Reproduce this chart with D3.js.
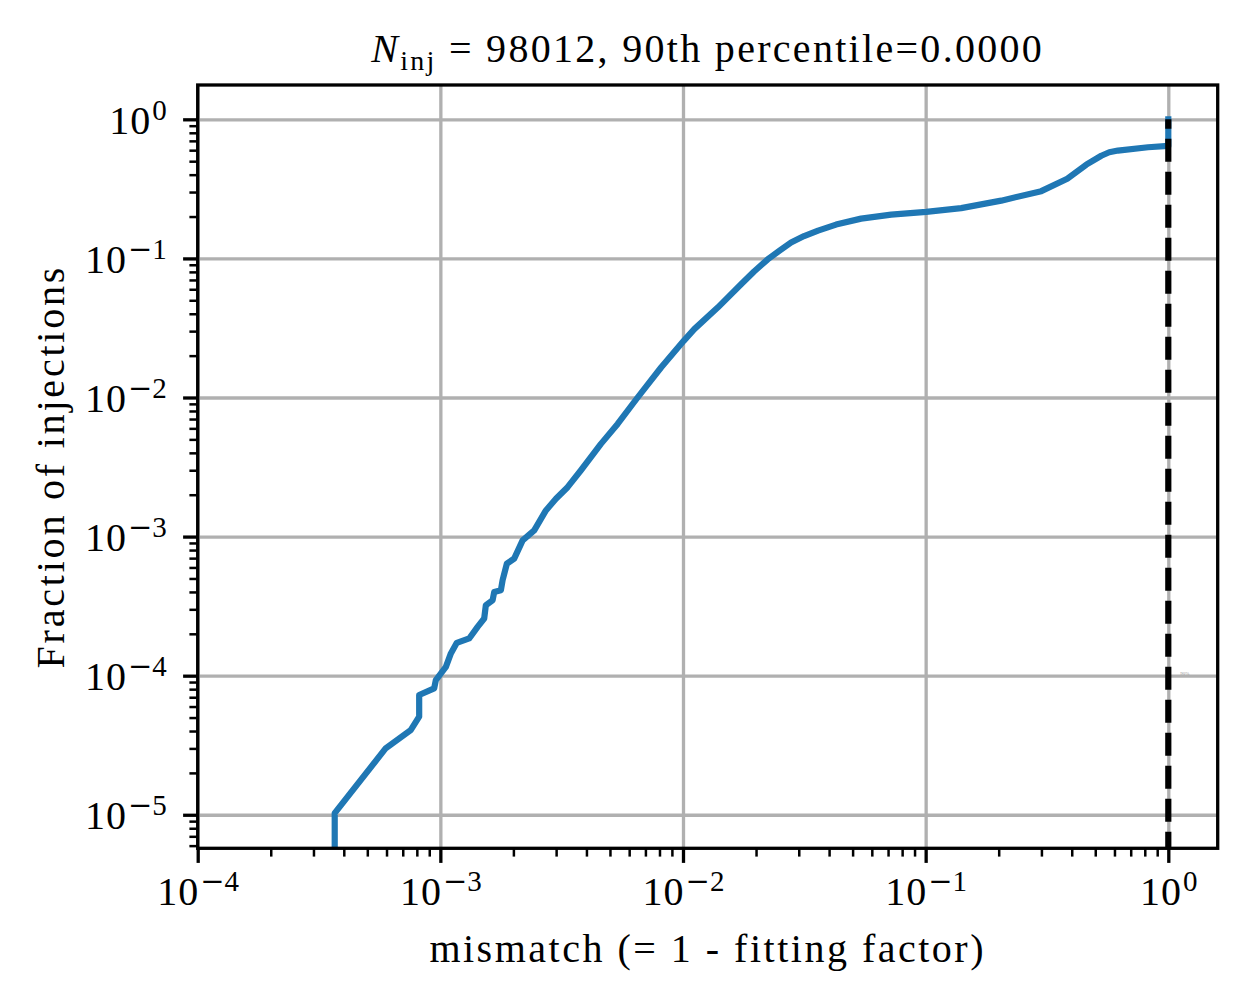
<!DOCTYPE html>
<html>
<head>
<meta charset="utf-8">
<script src="https://cdn.jsdelivr.net/npm/d3@7"></script>
<style>
  body { margin: 0; background: #fff; }
  text { font-family: "Liberation Serif", "DejaVu Serif", serif; fill: #000; }
</style>
</head>
<body>
<div id="main"></div>
<script>
// cumulative curve: mismatch vs fraction of injections
const mismatch = [
    3.67e-4, 3.67e-4, 5.96e-4, 7.56e-4, 8.18e-4, 8.18e-4, 9.43e-4, 9.58e-4,
    1.054e-3, 1.105e-3, 1.169e-3, 1.315e-3, 1.424e-3, 1.516e-3, 1.540e-3, 1.642e-3,
    1.667e-3, 1.776e-3, 1.805e-3, 1.880e-3, 2.015e-3, 2.183e-3, 2.437e-3, 2.723e-3,
    2.995e-3, 3.345e-3, 3.797e-3, 4.590e-3, 5.378e-3, 6.50e-3, 8.12e-3, 1.007e-2,
    1.113e-2, 1.390e-2, 1.735e-2, 1.963e-2, 2.235e-2, 2.488e-2, 2.788e-2, 3.155e-2,
    3.603e-2, 4.273e-2, 5.42e-2, 7.21e-2, 0.1005, 0.1401, 0.2048, 0.2995,
    0.3834, 0.4591, 0.5294, 0.5711, 0.620, 0.825, 1.0, 1.0
];
const fraction = [
    1e-6, 1.028e-5, 3.01e-5, 4.07e-5, 5.07e-5, 7.26e-5, 8.11e-5, 9.30e-5,
    1.158e-4, 1.445e-4, 1.722e-4, 1.852e-4, 2.243e-4, 2.577e-4, 3.21e-4, 3.485e-4,
    3.998e-4, 4.11e-4, 4.85e-4, 6.39e-4, 6.94e-4, 9.39e-4, 1.108e-3, 1.542e-3,
    1.870e-3, 2.265e-3, 3.0e-3, 4.64e-3, 6.45e-3, 1.0e-2, 1.643e-2, 2.556e-2,
    3.10e-2, 4.43e-2, 6.52e-2, 8.05e-2, 9.85e-2, 0.1130, 0.1300, 0.1448,
    0.1585, 0.1751, 0.1932, 0.2065, 0.2163, 0.2298, 0.2602, 0.3044,
    0.3742, 0.4717, 0.5471, 0.5797, 0.5963, 0.6297, 0.6435, 1.0
];
// 90th percentile marker
const percentileX = [1.0, 1.0];
const percentileY = [1e-6, 1.0];

const xTickExp = [-4, -3, -2, -1, 0];
const yTickExp = [-5, -4, -3, -2, -1, 0];
const xDomain = [1e-4, 1.598];
const yDomain = [5.74e-6, 1.765];

const titleMain = 'N';
const titleSub = 'inj';
const titleRest = ' = 98012, 90th percentile=0.0000';
const xLabel = 'mismatch (= 1 - fitting factor)';
const yLabel = 'Fraction of injections';

const svgWidth = 1246, svgHeight = 1003;
const margin = { left: 197.7, right: 28.3, top: 85, bottom: 154.7 };
const chartWidth = svgWidth - margin.left - margin.right;
const chartHeight = svgHeight - margin.top - margin.bottom;

const svg = d3.select('#main')
    .append('svg')
    .attr('width', svgWidth)
    .attr('height', svgHeight);

const xScale = d3.scaleLog().domain(xDomain).range([0, chartWidth]);
const yScale = d3.scaleLog().domain(yDomain).range([chartHeight, 0]);

const minorTicks = (lo, hi) => {
    const out = [];
    for (let e = lo; e <= hi; e++) {
        for (let m = 2; m <= 9; m++) out.push(m * Math.pow(10, e));
    }
    return out;
};
const xMinor = minorTicks(-4, 0).filter(v => v >= xDomain[0] && v <= xDomain[1]);
const yMinor = minorTicks(-6, 0).filter(v => v >= yDomain[0] && v <= yDomain[1]);

const g = svg.append('g')
    .attr('transform', `translate(${margin.left}, ${margin.top})`);

svg.append('defs').append('clipPath').attr('id', 'clip')
    .append('rect').attr('width', chartWidth).attr('height', chartHeight);

// grid
g.append('g')
    .attr('transform', `translate(0, ${chartHeight})`)
    .call(d3.axisBottom(xScale).tickValues(xTickExp.map(e => Math.pow(10, e)))
        .tickSize(-chartHeight).tickFormat(''))
    .call(a => a.select('.domain').remove())
    .selectAll('line').attr('stroke', '#b0b0b0').attr('stroke-width', 3.3);
g.append('g')
    .call(d3.axisLeft(yScale).tickValues(yTickExp.map(e => Math.pow(10, e)))
        .tickSize(-chartWidth).tickFormat(''))
    .call(a => a.select('.domain').remove())
    .selectAll('line').attr('stroke', '#b0b0b0').attr('stroke-width', 3.3);

// curve
const pts = mismatch.map((m, i) => [m, fraction[i]]);
g.append('path')
    .datum(pts)
    .attr('clip-path', 'url(#clip)')
    .attr('fill', 'none')
    .attr('stroke', '#1f77b4')
    .attr('stroke-width', 6.2)
    .attr('stroke-linejoin', 'round')
    .attr('stroke-linecap', 'square')
    .attr('d', d3.line().x(d => xScale(d[0])).y(d => yScale(d[1])));

// percentile line
g.append('path')
    .datum(percentileX.map((v, i) => [v, percentileY[i]]))
    .attr('clip-path', 'url(#clip)')
    .attr('fill', 'none')
    .attr('stroke', '#000')
    .attr('stroke-width', 6.2)
    .attr('stroke-dasharray', '23 10')
    .attr('d', d3.line().x(d => xScale(d[0])).y(d => yScale(d[1])));

// tiny label next to the marker
g.append('text')
    .attr('x', xScale(1.0) + 12)
    .attr('y', yScale(1e-4) - 1)
    .attr('font-size', 5)
    .style('fill', '#999')
    .text('90%');

// axes ticks
function styleTicks(a, w) {
    a.select('.domain').remove();
    a.selectAll('line').attr('stroke', '#000').attr('stroke-width', w);
}
g.append('g')
    .attr('transform', `translate(0, ${chartHeight})`)
    .call(d3.axisBottom(xScale).tickValues(xMinor).tickSize(8.3).tickFormat(''))
    .call(a => styleTicks(a, 2.5));
g.append('g')
    .call(d3.axisLeft(yScale).tickValues(yMinor).tickSize(8.3).tickFormat(''))
    .call(a => styleTicks(a, 2.5));

const xAxis = g.append('g')
    .attr('transform', `translate(0, ${chartHeight})`)
    .call(d3.axisBottom(xScale).tickValues(xTickExp.map(e => Math.pow(10, e)))
        .tickSize(14.6).tickFormat(''))
    .call(a => styleTicks(a, 3.3));
const yAxis = g.append('g')
    .call(d3.axisLeft(yScale).tickValues(yTickExp.map(e => Math.pow(10, e)))
        .tickSize(14.6).tickFormat(''))
    .call(a => styleTicks(a, 3.3));

function powerLabel(sel, e) {
    sel.append('tspan').attr('letter-spacing', 1).text('10');
    const sup = sel.append('tspan')
        .attr('font-size', 29)
        .attr('dx', 1)
        .attr('dy', -14);
    if (e < 0) {
        sup.append('tspan').style('font-family', '"DejaVu Serif"').text('\u2212');
        sup.append('tspan').text(String(-e));
    } else {
        sup.text(String(e));
    }
}
xAxis.selectAll('.tick').each(function (d, i) {
    const t = d3.select(this).append('text')
        .attr('y', 57)
        .attr('font-size', 40)
        .attr('text-anchor', 'middle');
    powerLabel(t, xTickExp[i]);
});
yAxis.selectAll('.tick').each(function (d, i) {
    const t = d3.select(this).append('text')
        .attr('x', -31)
        .attr('y', 14)
        .attr('font-size', 40)
        .attr('text-anchor', 'end');
    powerLabel(t, yTickExp[i]);
});

// frame
g.append('rect')
    .attr('width', chartWidth)
    .attr('height', chartHeight)
    .attr('fill', 'none')
    .attr('stroke', '#000')
    .attr('stroke-width', 3.3);

// labels
svg.append('text')
    .attr('x', margin.left + chartWidth / 2)
    .attr('y', 962)
    .attr('font-size', 40)
    .attr('letter-spacing', 2.5)
    .attr('text-anchor', 'middle')
    .text(xLabel);

svg.append('text')
    .attr('transform', `translate(64, ${margin.top + chartHeight / 2}) rotate(-90)`)
    .attr('font-size', 40)
    .attr('letter-spacing', 2.8)
    .attr('text-anchor', 'middle')
    .text(yLabel);

const title = svg.append('text')
    .attr('x', margin.left + chartWidth / 2)
    .attr('y', 62)
    .attr('font-size', 40)
    .attr('letter-spacing', 2.3)
    .attr('text-anchor', 'middle');
title.append('tspan').attr('font-style', 'italic').text(titleMain);
title.append('tspan').attr('font-size', 28).attr('dy', 8).text(titleSub);
title.append('tspan').attr('dy', -8).text(titleRest);
</script>
</body>
</html>
